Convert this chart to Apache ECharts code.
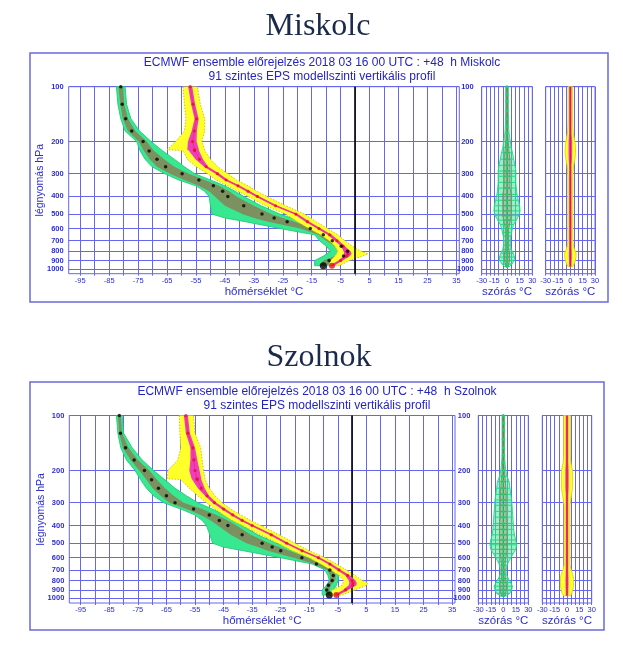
<!DOCTYPE html>
<html><head><meta charset="utf-8">
<script src="https://cdn.jsdelivr.net/npm/echarts@6/dist/echarts.min.js"></script>
<style>html,body{margin:0;padding:0;background:#fff}#c{width:623px;height:647px}</style>
</head><body><div id="c"></div>
<script>
// ---------- pressure levels (hPa) ----------
const LD = [100,125,150,175,200,225,250,275,300,325,350,375,400,450,500,525,550,600,650,700,750,800,850,900,960];
const LT = [100,125,150,175,200,222,224,250,275,300,325,350,375,400,450,500,550,600,650,700,750,800,825,850,900,960];
const LS = [100,110,120,135,150,165,180,200,215,230,250,270,290,310,335,360,390,420,450,480,510,540,570,600,630,660,700,740,780,820,860,900,940,970];
const pressureTicks = [100,200,300,400,500,600,700,800,900,1000];
const tempTicks = [-95,-85,-75,-65,-55,-45,-35,-25,-15,-5,5,15,25,35];
const spreadTicks = [-30,-15,0,15,30];

// ---------- Miskolc ----------
const misTMin = [-59.5,-59,-58.5,-59,-62,-65,-59.5,-58,-55,-51,-48,-44,-40.5,-37,-31,-24,-20,-16,-12,-9,-7,-6,-6.5,-7,-8.5,-9];
const misTQ25 = [-57.7,-56.7,-55.5,-56.5,-57.8,-58,-57.5,-55.2,-52.2,-48.3,-45.3,-41.2,-37.7,-34.5,-28.2,-21.2,-17.2,-13.2,-9.5,-7,-4.9,-4,-3.8,-4,-5.8,-8.8];
const misTMed = [-57,-56,-54.8,-55.6,-56.2,-55.5,-55.5,-53.8,-51.5,-47.6,-44.6,-40.5,-37,-33.8,-27.5,-20.5,-16.5,-12.5,-8.8,-6.3,-4.2,-2.8,-2.5,-2.9,-5,-8];
const misTQ75 = [-56.3,-55.3,-54.1,-54.7,-54.8,-54,-54,-52.6,-50.8,-46.9,-43.9,-39.8,-36.3,-33.1,-26.8,-19.8,-15.8,-11.8,-8.1,-5.6,-3.5,-1.6,-1.2,-1.8,-4.3,-7.3];
const misTMax = [-54.5,-53.5,-52,-52,-53,-52,-52,-50,-47.5,-44,-41,-37,-34,-30.5,-24,-17.5,-13.5,-9.5,-6,-3.5,-1,2,4.5,2.5,-2,-5.5];
const misDMin = [-82.5,-82,-81,-79.5,-75.5,-74.3,-72.6,-70.2,-65.8,-61,-55,-52,-50.5,-50,-49.5,-45,-38,-26,-14,-12.3,-10,-8.5,-11,-14,-14];
const misDQ25 = [-81.8,-81.2,-80.3,-78.5,-74.8,-73,-71,-68.5,-64,-59,-54,-50.5,-48.5,-45,-39,-35,-30,-19,-12.8,-10,-7,-5,-7,-11,-12.5];
const misDMed = [-81,-80.5,-79.3,-77.2,-73.3,-71.2,-68.5,-65.5,-59.8,-54,-49,-45.8,-44,-38.5,-32.2,-28,-23.5,-15.5,-11,-7.9,-4.8,-2.6,-4,-9,-11];
const misDQ75 = [-80.2,-79.8,-78.5,-76,-72,-69.5,-66,-62.5,-57.5,-52,-47,-43.5,-41,-35,-29,-25,-21,-14,-9.8,-7,-3.8,-1.5,-3,-7.5,-10];
const misDMax = [-79.5,-79,-77.5,-74.5,-70.5,-66.5,-62.5,-59,-55.5,-50,-45,-41.5,-38.5,-32.5,-26,-22,-18.5,-12.5,-8.5,-5.5,-2.5,-0.5,-2.5,-6.5,-9.5];
const misDewSpreadOut = [1.5,1.5,1.5,1.5,1.8,2,2.5,4,5,6.5,8,9.5,10.5,10.5,10.5,11,12,13.5,15,15.5,14,11,8,6.5,5.5,4.5,4,4,5,7.5,9,8.5,6,3];
const misDewSpreadIn  = [0.8,0.8,0.8,0.8,0.8,0.8,0.8,1.5,2,2.5,3.5,3.5,3.5,3.5,3.5,3.5,5,5,5,5,5,4,3,2,2,2,2,2,2,3,3,3,2,1.5];
const misTSpreadOut = [2.8,2.8,2.8,2.8,2.8,3,3.5,5.5,6.3,6.3,5.5,4,3.4,3,3,3,3,3,3,3,3,3,3,3,3,3,3,3.5,5,6.9,6.9,6,4.5,3];
const misTSpreadIn  = [1.5,1.5,1.5,1.5,1.5,1.5,1.5,2.2,2.2,2.2,2,1.5,1.5,1.5,1.5,1.5,1.5,1.5,1.5,1.5,1.5,1.5,1.5,1.5,1.5,1.5,1.5,1.5,1.6,1.8,1.8,1.6,1.5,1.5];

// ---------- Szolnok ----------
const szoTMin = [-60.5,-60.3,-60,-61,-64.5,-64.7,-60,-57,-54,-51,-48,-45,-42,-38.5,-32,-26,-21,-15,-11,-7.5,-4.5,-3,-3.2,-3.5,-7,-8];
const szoTQ25 = [-58.9,-58.2,-56.6,-56.6,-57,-56.2,-56,-54,-51.5,-48.9,-45.7,-42.5,-39.2,-35.7,-29,-23.6,-18.2,-12.5,-8.5,-5.3,-2.4,-1.2,-1,-1.2,-3.2,-6.3];
const szoTMed = [-58.2,-57.5,-55.8,-55.4,-55,-54.3,-54.2,-52.8,-50.8,-48.2,-45,-41.8,-38.5,-35,-28.3,-22.9,-17.5,-11.8,-7.8,-4.6,-1.6,0,0.3,0.2,-2.3,-5.5];
const szoTQ75 = [-57.5,-56.8,-55,-54.2,-53.4,-52.8,-52.8,-51.6,-50.1,-47.5,-44.3,-41.1,-37.8,-34.3,-27.6,-22.2,-16.8,-11.1,-7.1,-3.9,-0.8,1.2,1.6,1.5,-1.4,-4.7];
const szoTMax = [-55.5,-55,-53,-52.5,-52,-51.5,-51.5,-50,-48,-45.5,-42.5,-39,-35.5,-32,-25.5,-20,-15,-9.5,-5.5,-2,1,3.5,5.5,5,1,-3.5];
const szoDMin = [-82.5,-82,-81,-79,-76,-74,-72,-69.5,-66,-60,-55,-52.5,-51,-49.8,-48.8,-45,-38,-25,-14,-9.5,-8.5,-8,-9,-10.5,-10.5];
const szoDQ25 = [-82,-81.5,-80.3,-77.5,-74.5,-72,-69.8,-67,-64,-58,-53,-49.5,-47,-42.5,-37,-33,-29.5,-20.5,-13.3,-8.8,-7.6,-7.8,-8.8,-9.6,-9];
const szoDMed = [-81.5,-81.1,-79.3,-76.3,-72.7,-70.2,-67.8,-65,-62,-55.5,-50,-46.5,-43.5,-38.5,-31.5,-28,-25,-17.6,-12.5,-7.8,-6.6,-7,-8.3,-8.9,-8];
const szoDQ75 = [-81,-80.5,-78.3,-75,-71,-68.3,-65.5,-62.5,-59,-52.5,-47.5,-43.5,-40.5,-35.5,-29,-25.5,-22,-15.5,-11,-7,-5.7,-6,-7.5,-8,-7.3];
const szoDMax = [-80.5,-80,-77,-73.5,-69.5,-65.5,-62,-58,-54,-49,-44.5,-41,-38.5,-33,-26.5,-23,-19.5,-13.5,-9.5,-6,-4.8,-5,-5.5,-6.5,-6.8];
const szoDewSpreadOut = [1.5,1.5,1.5,1.5,1.5,1.5,2,3,4.5,7,8,9,10,10.5,11,11.5,12,12.5,13.5,15,16,15,12,9,6.5,4.5,3.5,3.5,6,9,11,10,8,4];
const szoDewSpreadIn  = [0.8,0.8,0.8,0.8,0.8,0.8,0.8,1.2,2,2.5,3,3.5,3.5,3.5,3.5,3.5,4.5,4.5,4.5,4.5,4.5,4.5,4,3,2.5,2,2,2,2.5,3.5,4,3.5,3,2];
const szoTSpreadOut = [4,4,4,4,4,4,4.5,6.8,6.8,6.8,6.8,5.5,4.5,3.6,3.6,3.6,3.6,3.6,3.6,3.6,3.6,3.6,3.6,3.6,3.6,3.6,5,7,8,8,8,7,6,4];
const szoTSpreadIn  = [1.5,1.5,1.5,1.5,1.5,1.5,1.5,2,2,2,2,1.5,1.5,1.5,1.5,1.5,1.5,1.5,1.5,1.5,1.5,1.5,1.5,1.5,1.5,1.5,1.5,1.6,1.8,1.8,1.8,1.6,1.5,1.5];

// ---------- rendering ----------
const GRIDC = '#6666ee', LBL = '#2d2dd0', HEAD = '#2424c4';
const FONT = '"Liberation Sans", Arial, sans-serif';
const GREEN = '#38e890', OLIVE = '#7b9160', YELLOW = '#ffff2a', MAGENTA = '#f03cc0', RED = '#e3121c';
const lg = Math.log10;
const YMIN = 2, YMAX = 3.026;

const grids = [], xAxes = [], yAxes = [], series = [], graphics = [];
const gridT = []; for (let v = -95; v <= 35; v += 5) gridT.push(v);

function neg(a){ return a.map(v => -v); }

function poly(gi, lv, lo, hi, fill, stroke, dash, z) {
  return { type:'custom', xAxisIndex:gi, yAxisIndex:gi, silent:true, z:z,
    data:[[lo[0], lg(lv[0])]],
    renderItem: function(params, api){
      const pts = [];
      for (let i = 0; i < lv.length; i++) pts.push(api.coord([lo[i], lg(lv[i])]));
      for (let i = lv.length - 1; i >= 0; i--) pts.push(api.coord([hi[i], lg(lv[i])]));
      return { type:'polygon', shape:{points:pts},
        style:{ fill: fill || 'transparent', stroke: stroke || null, lineWidth: stroke ? 0.9 : 0, lineDash: dash || null } };
    } };
}
function rungs(gi, lv, w, color, z) {
  return { type:'custom', xAxisIndex:gi, yAxisIndex:gi, silent:true, z:z,
    data: lv.map((p, i) => [w[i], lg(p)]),
    renderItem: function(params, api){
      const a = api.coord([-api.value(0), api.value(1)]);
      const b = api.coord([api.value(0), api.value(1)]);
      return { type:'line', shape:{x1:a[0], y1:a[1], x2:b[0], y2:b[1]}, style:{stroke:color, lineWidth:1} };
    } };
}
function yAxisCfg(gi, showLabels, name, labelMargin) {
  const cv = pressureTicks.map(lg);
  return { gridIndex:gi, type:'value', min:YMIN, max:YMAX, inverse:true,
    axisLine:{show:false},
    axisTick:{show:showLabels, customValues:cv, length:4, lineStyle:{color:GRIDC}},
    axisLabel:{show:showLabels, customValues:cv, margin:labelMargin,
      formatter: v => String(Math.round(Math.pow(10, v))),
      fontSize:7.5, fontWeight:'bold', color:LBL, fontFamily:FONT},
    splitLine:{show:true, lineStyle:{color:GRIDC, width:1}},
    name: name || '', nameLocation:'middle', nameGap:23, nameMoveOverlap:false,
    nameTextStyle:{color:LBL, fontSize:10.5, fontFamily:FONT} };
}

function buildPanel(D, G) {
  graphics.push({ type:'rect', z:-10, shape:{x:G.frame[0], y:G.frame[1], width:G.frame[2], height:G.frame[3]},
    style:{fill:'transparent', stroke:'#6a6ae0', lineWidth:1.5} });
  graphics.push({ type:'text', x:G.titleX, y:G.titleY, style:{text:D.name, font:'32px "Liberation Serif", "DejaVu Serif", serif', fill:'#1b2a4c', align:'center', verticalAlign:'middle'} });
  graphics.push({ type:'text', x:G.head[0], y:G.head[1], style:{text:'ECMWF ensemble előrejelzés 2018 03 16 00 UTC : +48  h ' + D.name, font:'12px ' + FONT, fill:HEAD, align:'center', verticalAlign:'middle'} });
  graphics.push({ type:'text', x:G.head[0], y:G.head[2], style:{text:'91 szintes EPS modellszinti vertikális profil', font:'12px ' + FONT, fill:HEAD, align:'center', verticalAlign:'middle'} });

  // ---- main panel ----
  const gm = grids.length;
  grids.push({ left:G.main[0], top:G.main[1], width:G.main[2], height:G.main[3], show:true, borderColor:GRIDC, borderWidth:1, backgroundColor:'transparent', containLabel:false, outerBoundsMode:'none' });
  xAxes.push({ gridIndex:gm, type:'value', min:-99, max:36,
    axisLine:{show:false},
    axisTick:{show:true, customValues:gridT, length:2, lineStyle:{color:GRIDC}},
    axisLabel:{customValues:tempTicks, fontSize:7.5, color:LBL, margin:3, fontFamily:FONT},
    splitLine:{show:true, lineStyle:{color:GRIDC, width:1}},
    name:'hőmérséklet °C', nameLocation:'middle', nameGap:10.5,
    nameTextStyle:{color:LBL, fontSize:11.5, fontFamily:FONT} });
  yAxes.push(yAxisCfg(gm, true, 'légnyomás hPa', 5));

  series.push(poly(gm, LD, D.dMin, D.dMax, GREEN, '#22cc77', null, 2));
  series.push(poly(gm, LD, D.dQ25, D.dQ75, OLIVE, null, null, 3));
  series.push(poly(gm, LT, D.tMin, D.tMax, YELLOW, '#c9c000', [1.5, 1.5], 4));
  series.push(poly(gm, LT, D.tQ25, D.tQ75, MAGENTA, null, null, 5));
  series.push({ type:'line', xAxisIndex:gm, yAxisIndex:gm, silent:true, z:6, symbol:'none',
    data: LT.map((p, i) => [D.tMed[i], lg(p)]), lineStyle:{color:'#e8306a', width:0.8} });
  series.push({ type:'scatter', xAxisIndex:gm, yAxisIndex:gm, silent:true, z:7,
    data: LT.map((p, i) => [D.tMed[i], lg(p)]),
    symbolSize:(v, pr) => pr.dataIndex === LT.length - 1 ? 6 : 3.2, itemStyle:{color:RED} });
  series.push({ type:'scatter', xAxisIndex:gm, yAxisIndex:gm, silent:true, z:7,
    data: LD.map((p, i) => [D.dMed[i], lg(p)]),
    symbolSize:(v, pr) => pr.dataIndex === LD.length - 1 ? 7 : 3.5, itemStyle:{color:'#000'},
    markLine:{ silent:true, symbol:'none', animation:false, label:{show:false},
      lineStyle:{color:'#000', width:1.6, type:'solid'}, data:[{xAxis:0}] } });

  // ---- spread panels ----
  [[G.sg, true], [G.sy, false]].forEach(([geo, isDew]) => {
    const gi = grids.length;
    grids.push({ left:geo[0], top:G.main[1], width:geo[1], height:G.main[3], show:true, borderColor:GRIDC, borderWidth:1, backgroundColor:'transparent', containLabel:false, outerBoundsMode:'none' });
    xAxes.push({ gridIndex:gi, type:'value', min:-30, max:30, interval:5,
      axisLine:{show:false}, axisTick:{show:true, length:2, lineStyle:{color:GRIDC}},
      axisLabel:{ fontSize:7.5, color:LBL, margin:3, fontFamily:FONT,
        formatter: v => spreadTicks.indexOf(v) >= 0 ? String(v) : '' },
      splitLine:{show:true, lineStyle:{color:GRIDC, width:1}},
      name:'szórás °C', nameLocation:'middle', nameGap:10.5,
      nameTextStyle:{color:LBL, fontSize:11.5, fontFamily:FONT} });
    yAxes.push(yAxisCfg(gi, isDew, '', 8));
    if (isDew) {
      series.push(poly(gi, LS, neg(D.sdOut), D.sdOut, 'rgba(70,232,140,0.55)', '#20dd80', null, 2));
      series.push(rungs(gi, LS, D.sdOut, '#20dd80', 3));
      series.push(poly(gi, LS, neg(D.sdIn), D.sdIn, 'rgba(123,145,96,0.35)', OLIVE, null, 4));
      series.push(rungs(gi, LS, D.sdIn, OLIVE, 4));
      series.push({ type:'line', xAxisIndex:gi, yAxisIndex:gi, silent:true, z:5,
        data: LS.map(p => [0, lg(p)]), symbol:'circle', symbolSize:3,
        itemStyle:{color:'#22cc77'}, lineStyle:{color:'#4f8f50', width:1} });
    } else {
      series.push(poly(gi, LS, neg(D.stOut), D.stOut, YELLOW, '#e0d800', null, 2));
      series.push(poly(gi, LS, neg(D.stIn), D.stIn, MAGENTA, null, null, 3));
      series.push({ type:'line', xAxisIndex:gi, yAxisIndex:gi, silent:true, z:5,
        data: LS.map(p => [0, lg(p)]), symbol:'none', lineStyle:{color:RED, width:1} });
    }
  });
}

buildPanel(
  { name:'Miskolc', tMin:misTMin, tQ25:misTQ25, tMed:misTMed, tQ75:misTQ75, tMax:misTMax,
    dMin:misDMin, dQ25:misDQ25, dMed:misDMed, dQ75:misDQ75, dMax:misDMax,
    sdOut:misDewSpreadOut, sdIn:misDewSpreadIn, stOut:misTSpreadOut, stIn:misTSpreadIn },
  { titleX:318, titleY:27, frame:[30,53,578,249], head:[322,62.7,76.7],
    main:[68.7,86.7,390.6,187], sg:[481.7,50.6], sy:[545.7,49.3] });
buildPanel(
  { name:'Szolnok', tMin:szoTMin, tQ25:szoTQ25, tMed:szoTMed, tQ75:szoTQ75, tMax:szoTMax,
    dMin:szoDMin, dQ25:szoDQ25, dMed:szoDMed, dQ75:szoDQ75, dMax:szoDMax,
    sdOut:szoDewSpreadOut, sdIn:szoDewSpreadIn, stOut:szoTSpreadOut, stIn:szoTSpreadIn },
  { titleX:319, titleY:358, frame:[30,382,574,248], head:[317,391.7,406],
    main:[69.3,415.5,385.7,187.5], sg:[478.3,50], sy:[542.3,49.4] });

const chart = echarts.init(document.getElementById('c'), null, {renderer:'canvas'});
chart.setOption({
  animation:false,
  backgroundColor:'#ffffff',
  grid:grids, xAxis:xAxes, yAxis:yAxes, series:series, graphic:graphics
});
</script></body></html>
